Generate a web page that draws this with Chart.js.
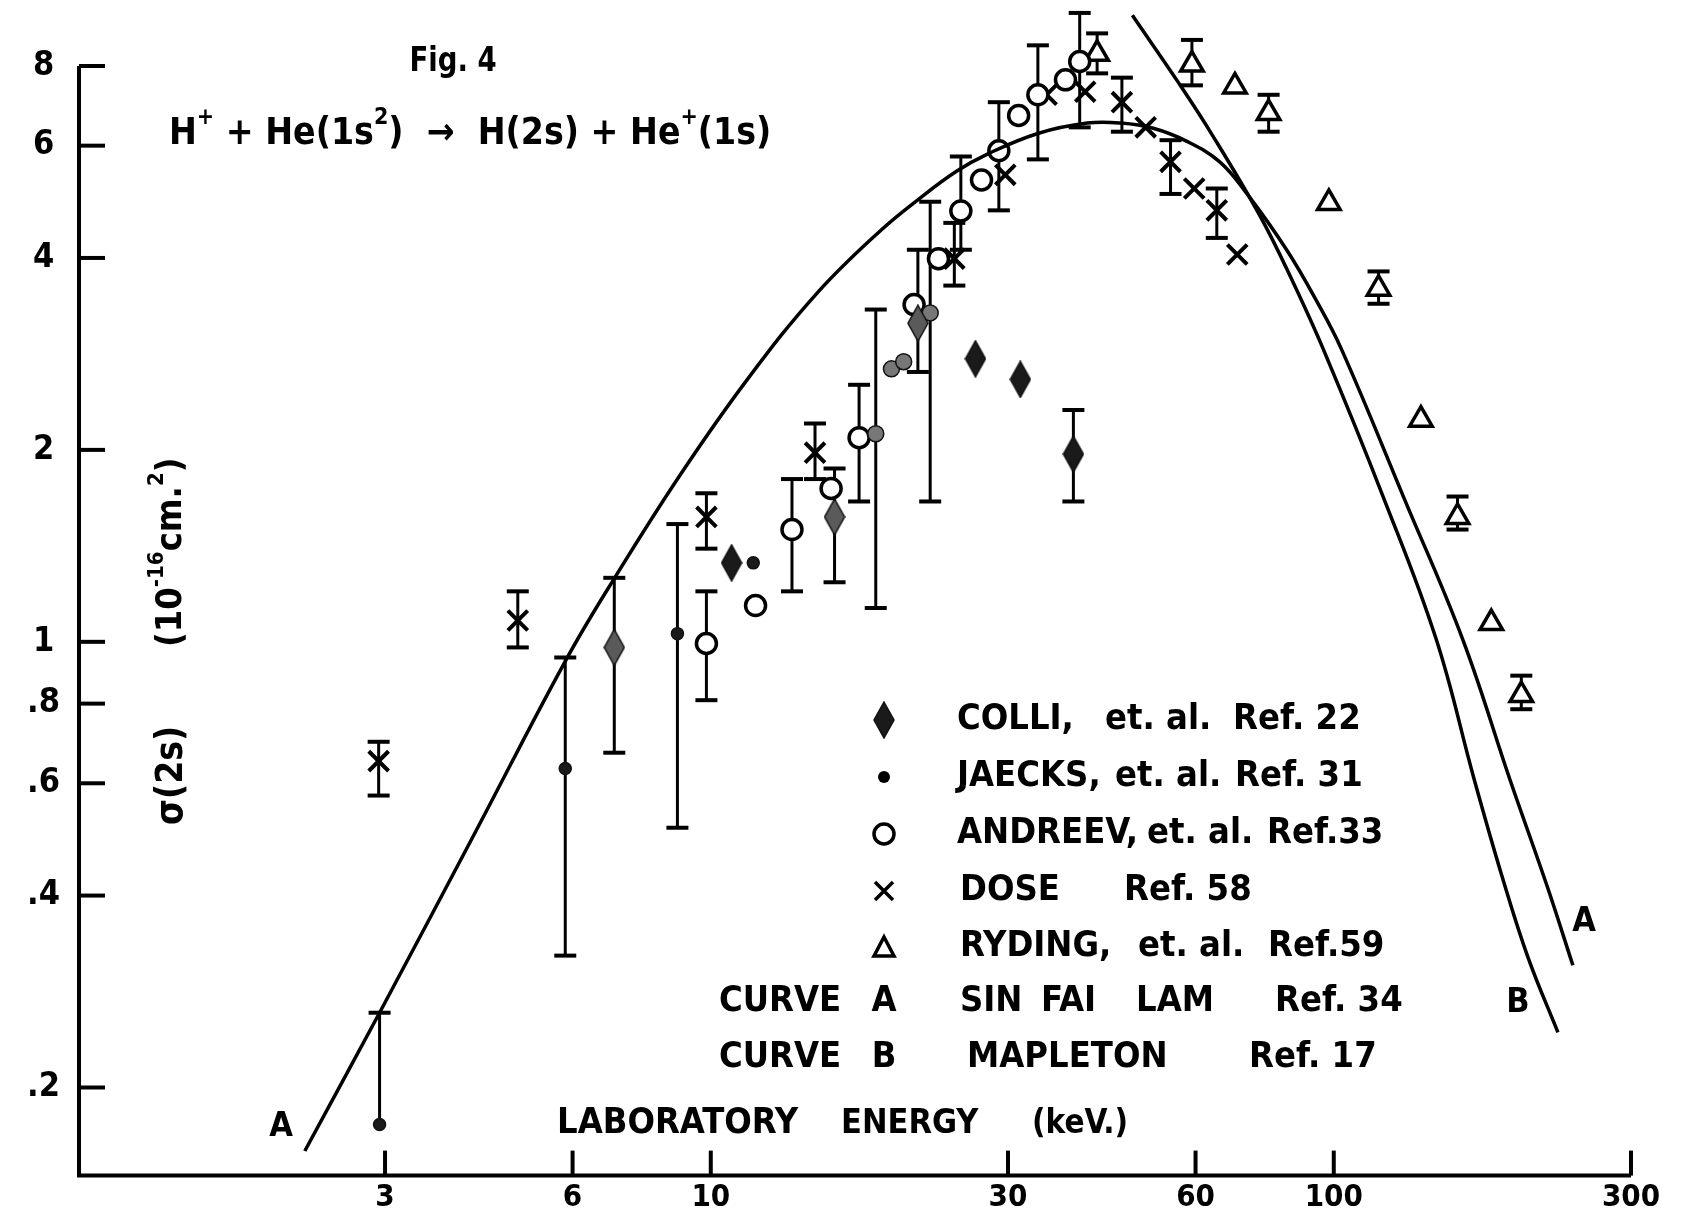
<!DOCTYPE html>
<html>
<head>
<meta charset="utf-8">
<script src="https://cdn.jsdelivr.net/npm/chart.js@4.4.1/dist/chart.umd.min.js"></script>
<style>
  body { margin: 0; background: #fff; }
  canvas { display: block; }
</style>
</head>
<body>
<canvas id="c" width="1691" height="1215"></canvas>
<script>
// axis ticks
const X_TICKS = [3, 6, 10, 30, 60, 100, 300];
const X_LABELS = ['3', '6', '10', '30', '60', '100', '300'];
const Y_TICKS = [0.2, 0.4, 0.6, 0.8, 1, 2, 4, 6, 8];
const Y_LABELS = ['.2', '.4', '.6', '.8', '1', '2', '4', '6', '8'];

// COLLI, et. al. (Ref. 22)
const colliE  = [7.0, 10.8, 15.8, 21.5, 26.6, 31.4, 38.2];
const colliS  = [0.98, 1.33, 1.57, 3.16, 2.78, 2.58, 1.97];
const colliHi = [1.26, null, 1.87, 4.12, null, null, 2.31];
const colliLo = [0.67, null, 1.24, 2.65, null, null, 1.66];
const colliShaded = [true, false, true, true, false, false, false];

// JAECKS, et. al. (Ref. 31)
const jaecksE  = [2.94, 5.84, 8.84, 11.7, 18.4, 19.5, 20.4, 22.5];
const jaecksS  = [0.175, 0.633, 1.03, 1.33, 2.12, 2.68, 2.75, 3.28];
const jaecksHi = [0.262, 0.945, 1.53, null, 3.32, null, null, 4.90];
const jaecksLo = [null, 0.322, 0.511, null, 1.13, null, null, 1.66];
const jaecksShaded = [false, false, false, false, true, true, true, true];

// ANDREEV, et. al. (Ref. 33)
const andreevE  = [9.84, 11.8, 13.5, 15.6, 17.3, 21.2, 23.2, 25.2, 27.2, 29.0, 31.2, 33.5, 37.1, 39.1];
const andreevS  = [0.994, 1.14, 1.50, 1.74, 2.09, 3.38, 3.99, 4.74, 5.30, 5.89, 6.69, 7.21, 7.61, 8.13];
const andreevHi = [1.20, null, 1.80, null, 2.53, null, null, 5.77, null, 7.02, null, 8.62, null, 9.69];
const andreevLo = [0.81, null, 1.20, null, 1.66, null, null, 4.12, null, 4.75, null, 5.71, null, 6.41];

// DOSE (Ref. 58)
const doseE  = [2.93, 4.90, 9.84, 14.7, 24.6, 29.7, 34.6, 39.9, 45.7, 49.9, 54.7, 59.7, 64.9, 70.0];
const doseS  = [0.650, 1.08, 1.57, 1.98, 3.99, 5.40, 7.21, 7.29, 7.02, 6.41, 5.66, 5.14, 4.75, 4.05];
const doseHi = [0.697, 1.20, 1.71, 2.20, 4.54, null, null, null, 7.67, null, 6.12, null, 5.14, null];
const doseLo = [0.574, 0.98, 1.40, 1.80, 3.62, null, null, null, 6.31, null, 5.04, null, 4.30, null];

// RYDING, et. al. (Ref. 59)
const rydingE  = [41.7, 49.9, 59.2, 69.4, 78.6, 98.2, 118, 138, 158, 179, 200];
const rydingS  = [8.36, 8.86, 8.04, 7.43, 6.75, 4.88, 3.58, 2.23, 1.57, 1.07, 0.825];
const rydingHi = [9.00, null, 8.79, null, 7.21, null, 3.81, null, 1.69, null, 0.885];
const rydingLo = [7.79, null, 7.46, null, 6.31, null, 3.39, null, 1.50, null, 0.784];

// curve A - Sin Fai Lam (Ref. 34)
const curveAE = [2.23, 2.94, 4.18, 5.86, 7.01, 8.94, 11.45, 14.8, 18.7, 21.7, 24.8, 27.8, 33.5, 40.2, 45.5, 51.3, 58.0, 65.6, 72.5, 84.0, 93.6, 103, 130, 161, 192, 220, 242];
const curveAS = [0.159, 0.262, 0.501, 0.938, 1.26, 1.83, 2.58, 3.52, 4.41, 4.97, 5.47, 5.82, 6.27, 6.51, 6.51, 6.39, 6.10, 5.66, 5.05, 4.12, 3.44, 2.87, 1.67, 1.01, 0.606, 0.414, 0.311];

// curve B - Mapleton (Ref. 17)
const curveBE = [47.5, 56.4, 63.8, 76.1, 85.4, 96.6, 120, 146, 168, 186.5, 205, 229];
const curveBS = [9.61, 7.52, 6.24, 4.66, 3.72, 2.85, 1.69, 1.01, 0.609, 0.427, 0.320, 0.244];

const FAMILY = '"DejaVu Sans Condensed", "DejaVu Sans", sans-serif';
const font = size => 'bold ' + size + 'px ' + FAMILY;

const pts = (xs, ys) => xs.map((v, i) => ({ x: v, y: ys[i] }));

// tall diamond marker for Colli
function makeDiamond(fill) {
    const c = document.createElement('canvas');
    c.width = 22; c.height = 38;
    const g = c.getContext('2d');
    g.beginPath();
    g.moveTo(11, 1); g.lineTo(21, 19); g.lineTo(11, 37); g.lineTo(1, 19);
    g.closePath();
    g.fillStyle = fill;
    g.fill();
    g.lineWidth = 1.5;
    g.strokeStyle = '#111';
    g.stroke();
    return c;
}
const diamondDark = makeDiamond('#1a1a1a');
const diamondGray = makeDiamond('#5a5a5a');

const errorBars = {
    id: 'errorBars',
    beforeDatasetsDraw(chart) {
        const { ctx, scales: { x, y } } = chart;
        ctx.save();
        ctx.strokeStyle = '#000';
        chart.data.datasets.forEach(ds => {
            if (!ds.errHi) return;
            ds.data.forEach((p, i) => {
                const px = x.getPixelForValue(p.x);
                const py = y.getPixelForValue(p.y);
                [ds.errHi[i], ds.errLo[i]].forEach(v => {
                    if (v == null) return;
                    const ey = y.getPixelForValue(v);
                    ctx.lineWidth = 3;
                    ctx.beginPath();
                    ctx.moveTo(px, py);
                    ctx.lineTo(px, ey);
                    ctx.stroke();
                    ctx.lineWidth = 4;
                    ctx.beginPath();
                    ctx.moveTo(px - 11, ey);
                    ctx.lineTo(px + 11, ey);
                    ctx.stroke();
                });
            });
        });
        ctx.restore();
    }
};

// text drawn with optional horizontal squeeze
function text(ctx, str, x, y, size, sx) {
    ctx.save();
    ctx.font = font(size);
    ctx.translate(x, y);
    ctx.scale(sx || 1, 1);
    ctx.fillText(str, 0, 0);
    ctx.restore();
}

function drawRich(ctx, parts, x, y, size) {
    let cx = x;
    parts.forEach(p => {
        const s = p.sup ? Math.round(size * 0.62) : size;
        ctx.font = font(s);
        const dy = p.sup ? -size * 0.42 : 0;
        ctx.fillText(p.t, cx, y + dy);
        cx += ctx.measureText(p.t).width;
    });
}

const paper = {
    id: 'paper',
    afterDraw(chart) {
        const { ctx, chartArea: a, scales: { x, y } } = chart;
        ctx.save();
        ctx.strokeStyle = '#000';
        ctx.fillStyle = '#000';
        ctx.lineCap = 'butt';

        // axes
        ctx.lineWidth = 4;
        ctx.beginPath();
        ctx.moveTo(a.left, a.top);
        ctx.lineTo(a.left, a.bottom);
        ctx.lineTo(a.right, a.bottom);
        ctx.stroke();

        // inward tick marks
        X_TICKS.forEach(v => {
            const px = x.getPixelForValue(v);
            ctx.beginPath();
            ctx.moveTo(px, a.bottom);
            ctx.lineTo(px, a.bottom - 25);
            ctx.stroke();
        });
        Y_TICKS.forEach(v => {
            const py = y.getPixelForValue(v);
            ctx.beginPath();
            ctx.moveTo(a.left, py);
            ctx.lineTo(a.left + 26, py);
            ctx.stroke();
        });

        ctx.textBaseline = 'middle';

        // title
        ctx.textAlign = 'center';
        text(ctx, 'Fig. 4', 453, 62, 34, 0.9);
        ctx.textAlign = 'left';

        drawRich(ctx, [
            { t: 'H' }, { t: '+', sup: true }, { t: ' + He(1s' }, { t: '2', sup: true },
            { t: ')  \u2192  H(2s) + He' }, { t: '+', sup: true }, { t: '(1s)' }
        ], 169, 134, 37);

        // y axis title, rotated
        ctx.save();
        ctx.translate(172, 825);
        ctx.rotate(-Math.PI / 2);
        drawRich(ctx, [{ t: '\u03c3(2s)' }], 0, 0, 37);
        drawRich(ctx, [{ t: '(10' }, { t: '-16', sup: true }, { t: 'cm.' }, { t: '2', sup: true }, { t: ')' }], 178, 0, 36);
        ctx.restore();

        // x axis title
        text(ctx, 'LABORATORY', 557, 1124, 36);
        text(ctx, 'ENERGY', 841, 1124, 34);
        text(ctx, '(keV.)', 1032, 1124, 33);

        // curve labels
        ctx.textAlign = 'center';
        text(ctx, 'A', 281, 1127, 34);
        text(ctx, 'A', 1584, 922, 34);
        text(ctx, 'B', 1518, 1003, 34);

        // legend symbols
        const sx = 884;
        ctx.drawImage(diamondDark, sx - 11, 720 - 19);
        ctx.beginPath();
        ctx.arc(sx, 777, 6, 0, Math.PI * 2);
        ctx.fill();
        ctx.lineWidth = 3.5;
        ctx.beginPath();
        ctx.arc(sx, 834, 10, 0, Math.PI * 2);
        ctx.stroke();
        ctx.beginPath();
        ctx.moveTo(sx - 9, 882); ctx.lineTo(sx + 9, 900);
        ctx.moveTo(sx + 9, 882); ctx.lineTo(sx - 9, 900);
        ctx.stroke();
        ctx.beginPath();
        ctx.moveTo(sx, 937); ctx.lineTo(sx + 10, 956); ctx.lineTo(sx - 10, 956);
        ctx.closePath();
        ctx.stroke();

        // legend text
        text(ctx, 'A', sx, 1002, 36);
        text(ctx, 'B', sx, 1058, 36);
        ctx.textAlign = 'left';
        const rows = [
            [720, [['COLLI,', 957], ['et. al.', 1105], ['Ref. 22', 1233]]],
            [777, [['JAECKS,', 957], ['et. al.', 1115], ['Ref. 31', 1235]]],
            [834, [['ANDREEV,', 957], ['et. al.', 1147], ['Ref.33', 1267]]],
            [891, [['DOSE', 960], ['Ref. 58', 1124]]],
            [947, [['RYDING,', 960], ['et. al.', 1138], ['Ref.59', 1268]]],
            [1002, [['CURVE', 719], ['SIN', 960], ['FAI', 1041], ['LAM', 1136], ['Ref. 34', 1275]]],
            [1058, [['CURVE', 719], ['MAPLETON', 967], ['Ref. 17', 1249]]]
        ];
        rows.forEach(([ry, items]) => items.forEach(([t, tx]) => text(ctx, t, tx, ry, 36)));

        ctx.restore();
    }
};

const curveStyle = {
    showLine: true,
    borderColor: '#000',
    borderWidth: 3.5,
    pointRadius: 0,
    tension: 0.4,
    clip: false
};

new Chart(document.getElementById('c'), {
    type: 'scatter',
    data: {
        datasets: [
            Object.assign({ label: 'Curve A', data: pts(curveAE, curveAS) }, curveStyle),
            Object.assign({ label: 'Curve B', data: pts(curveBE, curveBS) }, curveStyle),
            {
                label: 'COLLI',
                data: pts(colliE, colliS),
                errHi: colliHi, errLo: colliLo,
                pointStyle: colliShaded.map(s => s ? diamondGray : diamondDark),
                clip: false
            },
            {
                label: 'JAECKS',
                data: pts(jaecksE, jaecksS),
                errHi: jaecksHi, errLo: jaecksLo,
                pointStyle: 'circle',
                pointRadius: jaecksShaded.map(s => s ? 8 : 6),
                pointBackgroundColor: jaecksShaded.map(s => s ? '#777' : '#1a1a1a'),
                pointBorderColor: '#111',
                pointBorderWidth: 1.5,
                clip: false
            },
            {
                label: 'ANDREEV',
                data: pts(andreevE, andreevS),
                errHi: andreevHi, errLo: andreevLo,
                pointStyle: 'circle',
                pointRadius: 10,
                pointBackgroundColor: '#fff',
                pointBorderColor: '#000',
                pointBorderWidth: 3.5,
                clip: false
            },
            {
                label: 'DOSE',
                data: pts(doseE, doseS),
                errHi: doseHi, errLo: doseLo,
                pointStyle: 'crossRot',
                pointRadius: 14,
                pointBorderColor: '#000',
                pointBorderWidth: 4,
                clip: false
            },
            {
                label: 'RYDING',
                data: pts(rydingE, rydingS),
                errHi: rydingHi, errLo: rydingLo,
                pointStyle: 'triangle',
                pointRadius: 13,
                pointBackgroundColor: '#fff',
                pointBorderColor: '#000',
                pointBorderWidth: 3.5,
                clip: false
            }
        ]
    },
    options: {
        responsive: false,
        animation: false,
        devicePixelRatio: 1,
        layout: { padding: { left: 0, top: 66, right: 60, bottom: 0 } },
        plugins: {
            legend: { display: false },
            tooltip: { enabled: false }
        },
        scales: {
            x: {
                type: 'logarithmic',
                min: 0.968,
                max: 300,
                afterBuildTicks: scale => { scale.ticks = X_TICKS.map(v => ({ value: v })); },
                afterFit: scale => { scale.height = 39; },
                grid: { display: false, drawTicks: false },
                border: { display: false },
                ticks: {
                    autoSkip: false,
                    maxRotation: 0,
                    minRotation: 0,
                    padding: 4,
                    color: '#000',
                    font: { family: FAMILY, size: 31, weight: 'bold' },
                    callback: (v, i) => X_LABELS[i]
                }
            },
            y: {
                type: 'logarithmic',
                min: 0.1455,
                max: 8,
                afterBuildTicks: scale => { scale.ticks = Y_TICKS.map(v => ({ value: v })); },
                afterFit: scale => { scale.width = 79; },
                grid: { display: false, drawTicks: false },
                border: { display: false },
                ticks: {
                    autoSkip: false,
                    padding: 19,
                    crossAlign: 'center',
                    color: '#000',
                    font: { family: FAMILY, size: 34, weight: 'bold' },
                    callback: (v, i) => Y_LABELS[i]
                }
            }
        }
    },
    plugins: [errorBars, paper]
});
</script>
</body>
</html>
